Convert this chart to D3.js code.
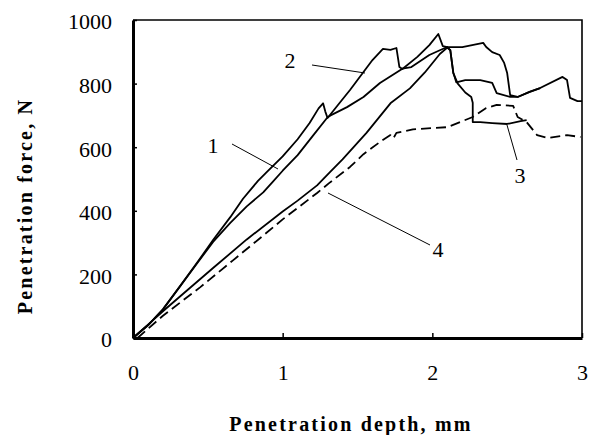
<!DOCTYPE html>
<html>
<head>
<meta charset="utf-8">
<script src="https://cdn.jsdelivr.net/npm/d3@7"></script>
<style>
  html, body { margin: 0; padding: 0; background: #fff; }
  svg { display: block; }
</style>
</head>
<body>
<svg id="chart" width="595" height="435"></svg>
<script>
// ---- data (penetration depth mm, penetration force N) ----
const xTicks = [0, 1, 2, 3];
const yTicks = [0, 200, 400, 600, 800, 1000];
const xTitle = "Penetration depth, mm";
const yTitle = "Penetration force, N";

const series1 = [
  [0,0],[0.1,40],[0.2,90],[0.31,160],[0.43,236],[0.535,302],[0.65,362],[0.76,414],
  [0.87,458],[0.935,492],[1.0,526],[1.1,575],[1.2,635],[1.30,694],[1.32,700],
  [1.43,726],[1.54,758],[1.65,802],[1.80,847],[1.86,852],[1.98,890],[2.05,905],
  [2.10,915],[2.12,905],[2.14,835],[2.16,804],[2.22,811],[2.32,811],[2.40,802],
  [2.43,770],[2.52,758],[2.57,758],[2.65,774],[2.72,786]
];
const series2 = [
  [0,0],[0.1,40],[0.2,90],[0.31,160],[0.43,238],[0.535,308],[0.65,380],[0.735,438],
  [0.835,494],[0.90,525],[1.0,571],[1.1,625],[1.18,676],[1.24,722],[1.27,738],
  [1.285,712],[1.30,692],[1.38,739],[1.45,780],[1.55,843],[1.60,874],[1.67,909],
  [1.72,906],[1.76,912],[1.78,852],[1.80,846],[1.90,884],[1.98,921],[2.04,956],
  [2.07,918],[2.10,915],[2.20,915],[2.34,928],[2.36,915],[2.40,899],[2.45,890],
  [2.48,865],[2.50,833],[2.52,764],[2.57,758],[2.65,774],[2.72,786],[2.87,821],
  [2.90,811],[2.92,755],[2.97,745],[3.0,745]
];
const series3 = [
  [0,0],[0.1,42],[0.2,84],[0.31,129],[0.535,220],[0.76,310],[1.0,398],[1.1,432],
  [1.23,480],[1.316,522],[1.40,562],[1.56,645],[1.72,738],[1.85,785],[1.95,835],
  [2.05,893],[2.10,913],[2.12,905],[2.14,833],[2.17,800],[2.22,772],[2.26,758],
  [2.27,740],[2.27,679],[2.32,679],[2.40,676],[2.50,673],[2.59,682],[2.63,685]
];
const series4 = [
  [0.03,0],[0.2,70],[0.45,160],[0.67,245],[0.89,330],[1.0,373],[1.23,456],[1.31,487],
  [1.45,538],[1.54,578],[1.66,620],[1.72,638],[1.74,628],[1.76,645],[1.87,656],
  [2.10,663],[2.27,695],[2.36,723],[2.43,733],[2.54,730],[2.57,695],[2.63,679],
  [2.70,638],[2.77,629],[2.90,638],[2.99,632]
];
const curveLabels = ["1", "2", "3", "4"];

// ---- layout ----
const svg = d3.select("#chart");
const x = d3.scaleLinear().domain([0, 3]).range([133, 582]);
const y = d3.scaleLinear().domain([0, 1000]).range([338, 20]);
const serif = "'Liberation Serif', 'Times New Roman', serif";

// frame (top and right)
svg.append("path")
  .attr("d", `M${x(0)},${y(1000)}H${x(3)}V${y(0)}`)
  .attr("fill", "none").attr("stroke", "#000").attr("stroke-width", 1.6);

// curves
const line = d3.line().x(d => x(d[0])).y(d => y(d[1]));
const g = svg.append("g").attr("fill", "none").attr("stroke", "#000")
  .attr("stroke-width", 1.8).attr("stroke-linejoin", "round");
[series1, series2, series3].forEach(s => g.append("path").attr("d", line(s)));
g.append("path").attr("d", line(series4)).attr("stroke-dasharray", "10,5");

// axes
const yAxis = d3.axisLeft(y).tickValues(yTicks).tickSizeInner(-4).tickSizeOuter(0).tickPadding(21)
  .tickFormat(d3.format("d"));
const ya = svg.append("g").attr("transform", `translate(${x(0)},0)`).call(yAxis);
const xAxis = d3.axisBottom(x).tickValues(xTicks).tickSizeInner(-5).tickSizeOuter(0).tickPadding(26)
  .tickFormat(d3.format("d"));
const xa = svg.append("g").attr("transform", `translate(0,${y(0)})`).call(xAxis);
[ya, xa].forEach(a => {
  a.select(".domain").attr("stroke-width", 3).attr("stroke", "#000");
  a.selectAll(".tick line").attr("stroke-width", 1.5).attr("stroke", "#000");
  a.selectAll(".tick text").attr("font-family", serif).attr("font-size", 22).attr("fill", "#000");
});
ya.selectAll(".tick text").attr("dy", "0.4em");

// axis titles
svg.append("text").text(xTitle)
  .attr("x", 351).attr("y", 431).attr("text-anchor", "middle")
  .attr("font-family", serif).attr("font-weight", "bold").attr("font-size", 20)
  .attr("letter-spacing", 2.2);
svg.append("text").text(yTitle)
  .attr("transform", "translate(32,206) rotate(-90)").attr("text-anchor", "middle")
  .attr("font-family", serif).attr("font-weight", "bold").attr("font-size", 20)
  .attr("letter-spacing", 2.2);

// curve labels with leader lines
const labelInfo = [
  {t: curveLabels[0], tx: 213, ty: 153, l: [232,144,278,169]},
  {t: curveLabels[1], tx: 290, ty: 68, l: [312,65,365,73]},
  {t: curveLabels[2], tx: 520, ty: 183, l: [517,160,507,125]},
  {t: curveLabels[3], tx: 438, ty: 257, l: [328,193,430,245]}
];
labelInfo.forEach(d => {
  svg.append("line").attr("x1", d.l[0]).attr("y1", d.l[1]).attr("x2", d.l[2]).attr("y2", d.l[3])
    .attr("stroke", "#000").attr("stroke-width", 1);
  svg.append("text").text(d.t).attr("x", d.tx).attr("y", d.ty).attr("text-anchor", "middle")
    .attr("font-family", serif).attr("font-size", 22).attr("fill", "#000");
});
</script>
</body>
</html>
